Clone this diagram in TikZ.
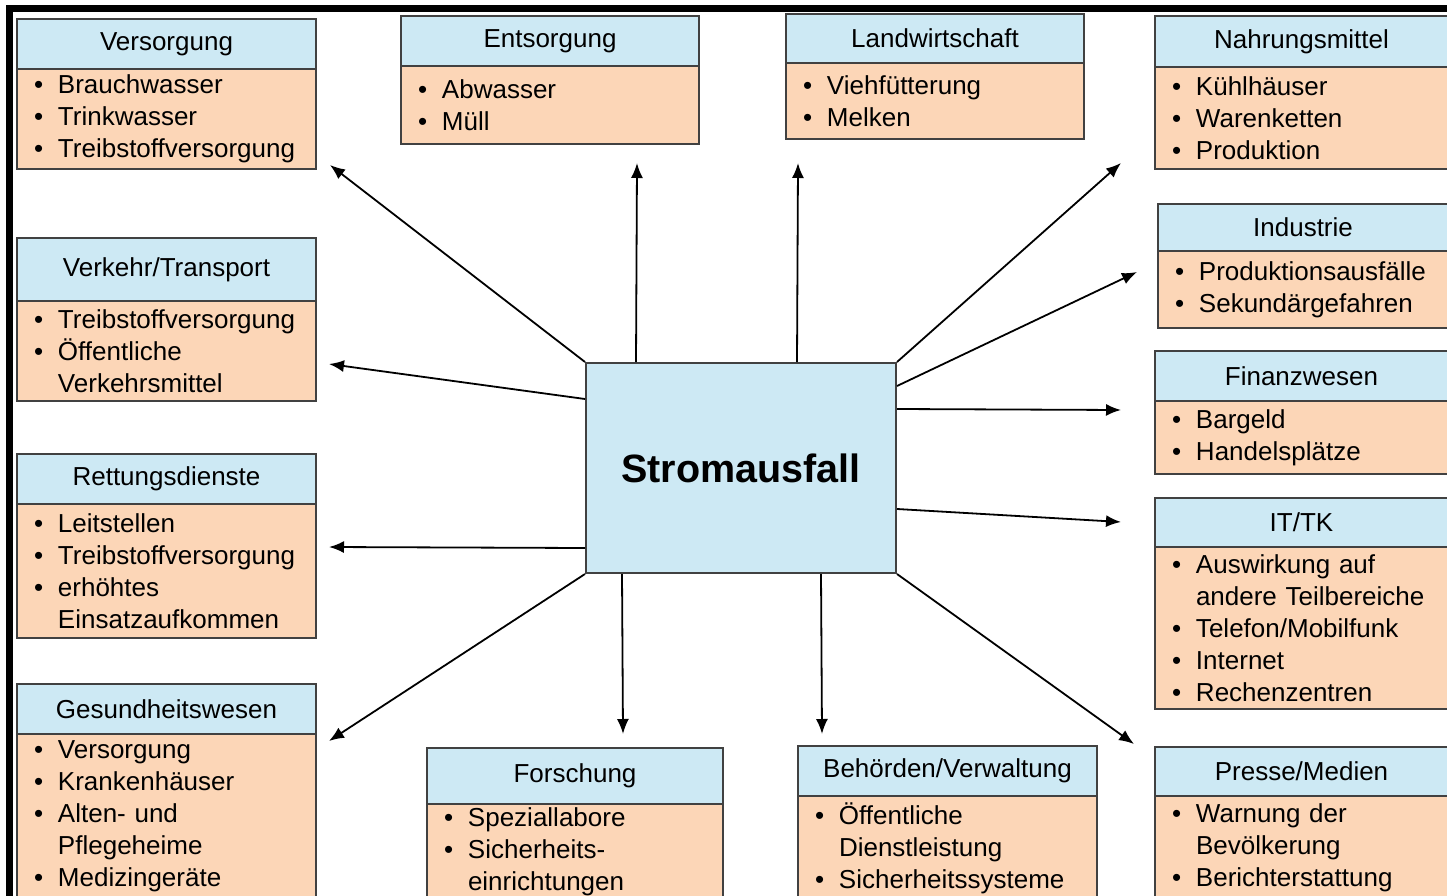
\documentclass[tikz,border=0pt]{standalone}
\usepackage{fontspec}
\setmainfont{Liberation Sans}
\usetikzlibrary{arrows.meta}
\definecolor{hblue}{RGB}{205,233,244}
\definecolor{bpeach}{RGB}{252,214,183}
\definecolor{bline}{RGB}{65,65,65}
\newcommand\itm{\makebox[24pt][l]{\textbullet}}
\newcommand\cnt{\hspace*{24pt}}
\newcommand\ibox[8]{%
  \node[hdr, minimum width={#3-#2}, minimum height={#5-#4}, anchor=north west] (#1h) at (#2,#4) {#7};
  \node[bdy, minimum width={#3-#2}, minimum height={#6-#5}, text width=\dimexpr #3pt-#2pt-34pt\relax, anchor=north west] (#1b) at (#2,#5) {#8};
}
\tikzset{
  txt/.style={font=\fontsize{26}{32}\selectfont},
  hdr/.style={txt, draw=bline, line width=2pt, fill=hblue, inner sep=0pt},
  bdy/.style={txt, draw=bline, line width=2pt, fill=bpeach, inner xsep=17pt, inner ysep=0pt, align=left},
  center/.style={draw=bline, line width=2pt, fill=hblue, minimum width=310, minimum height=210, font=\fontsize{39.5}{46}\selectfont\bfseries},
  arr/.style={line width=1.8pt, -{Latex[length=15pt,width=12pt]}},
}
\begin{document}
\begin{tikzpicture}[x=1pt,y=-1pt]
\useasboundingbox[fill=white] (0,0) rectangle (1447,896);
\draw[line width=7pt] (1460,8.5) -- (9,8.5) -- (9,910);

\ibox{vers}{16}{315}{18}{68}{168}{Versorgung}{\itm Brauchwasser\\\itm Trinkwasser\\\itm Treibstoffversorgung}
\ibox{ents}{400}{698}{15}{65}{143}{Entsorgung}{\itm Abwasser\\\itm Müll}
\ibox{land}{785}{1083}{13}{62}{138}{Landwirtschaft}{\itm Viehfütterung\\\itm Melken}
\ibox{nahr}{1154}{1447}{15}{66}{168}{Nahrungsmittel}{\itm Kühlhäuser\\\itm Warenketten\\\itm Produktion}
\ibox{indu}{1157}{1447}{203}{250}{327}{Industrie}{\itm Produktionsausfälle\\\itm Sekundärgefahren}
\ibox{fina}{1154}{1447}{350}{400}{473}{Finanzwesen}{\itm Bargeld\\\itm Handelsplätze}
\ibox{ittk}{1154}{1447}{497}{546}{708}{IT/TK}{\itm Auswirkung auf\\\cnt andere Teilbereiche\\\itm Telefon/Mobilfunk\\\itm Internet\\\itm Rechenzentren}
\ibox{pres}{1154}{1447}{746}{795}{899}{Presse/Medien}{\itm Warnung der\\\cnt Bevölkerung\\\itm Berichterstattung}
\ibox{verk}{16}{315}{237}{300}{400}{Verkehr/Transport}{\itm Treibstoffversorgung\\\itm Öffentliche\\\cnt Verkehrsmittel}
\ibox{rett}{16}{315}{453}{503}{637}{Rettungsdienste}{\itm Leitstellen\\\itm Treibstoffversorgung\\\itm erhöhtes\\\cnt Einsatzaufkommen}
\ibox{gesu}{16}{315}{683}{733}{898}{Gesundheitswesen}{\itm Versorgung\\\itm Krankenhäuser\\\itm Alten- und\\\cnt Pflegeheime\\\itm Medizingeräte}
\ibox{fors}{426}{722}{747}{803}{899}{Forschung}{\itm Speziallabore\\\itm Sicherheits-\\\cnt einrichtungen}
\ibox{beho}{797}{1096}{745}{795}{899}{Behörden/Verwaltung}{\itm Öffentliche\\\cnt Dienstleistung\\\itm Sicherheitssysteme}

\node[center] (s) at (741,468) {Stromausfall};

\coordinate (eVers) at (330,165);
\coordinate (eEnts) at (637,163);
\coordinate (eLand) at (798,163);
\coordinate (eNahr) at (1121,163);
\coordinate (eIndu) at (1137,272);
\coordinate (eFina) at (1121,410);
\coordinate (eIttk) at (1121,522);
\coordinate (ePres) at (1134,744);
\coordinate (eBeho) at (822,734);
\coordinate (eFors) at (623,734);
\coordinate (eGesu) at (329,741);
\coordinate (eRett) at (329,547);
\coordinate (eVerk) at (329,364);

\draw[arr] (s.north west) -- (eVers);
\draw[arr] ([xshift=51pt]s.north west) -- (eEnts);
\draw[arr] ([xshift=212pt]s.north west) -- (eLand);
\draw[arr] (s.north east) -- (eNahr);
\draw[arr] ([yshift=-24pt]s.north east) -- (eIndu);
\draw[arr] ([yshift=-47pt]s.north east) -- (eFina);
\draw[arr] ([yshift=-147pt]s.north east) -- (eIttk);
\draw[arr] (s.south east) -- (ePres);
\draw[arr] ([xshift=236pt]s.south west) -- (eBeho);
\draw[arr] ([xshift=37pt]s.south west) -- (eFors);
\draw[arr] (s.south west) -- (eGesu);
\draw[arr] ([yshift=26pt]s.south west) -- (eRett);
\draw[arr] ([yshift=-37pt]s.north west) -- (eVerk);
\end{tikzpicture}
\end{document}
